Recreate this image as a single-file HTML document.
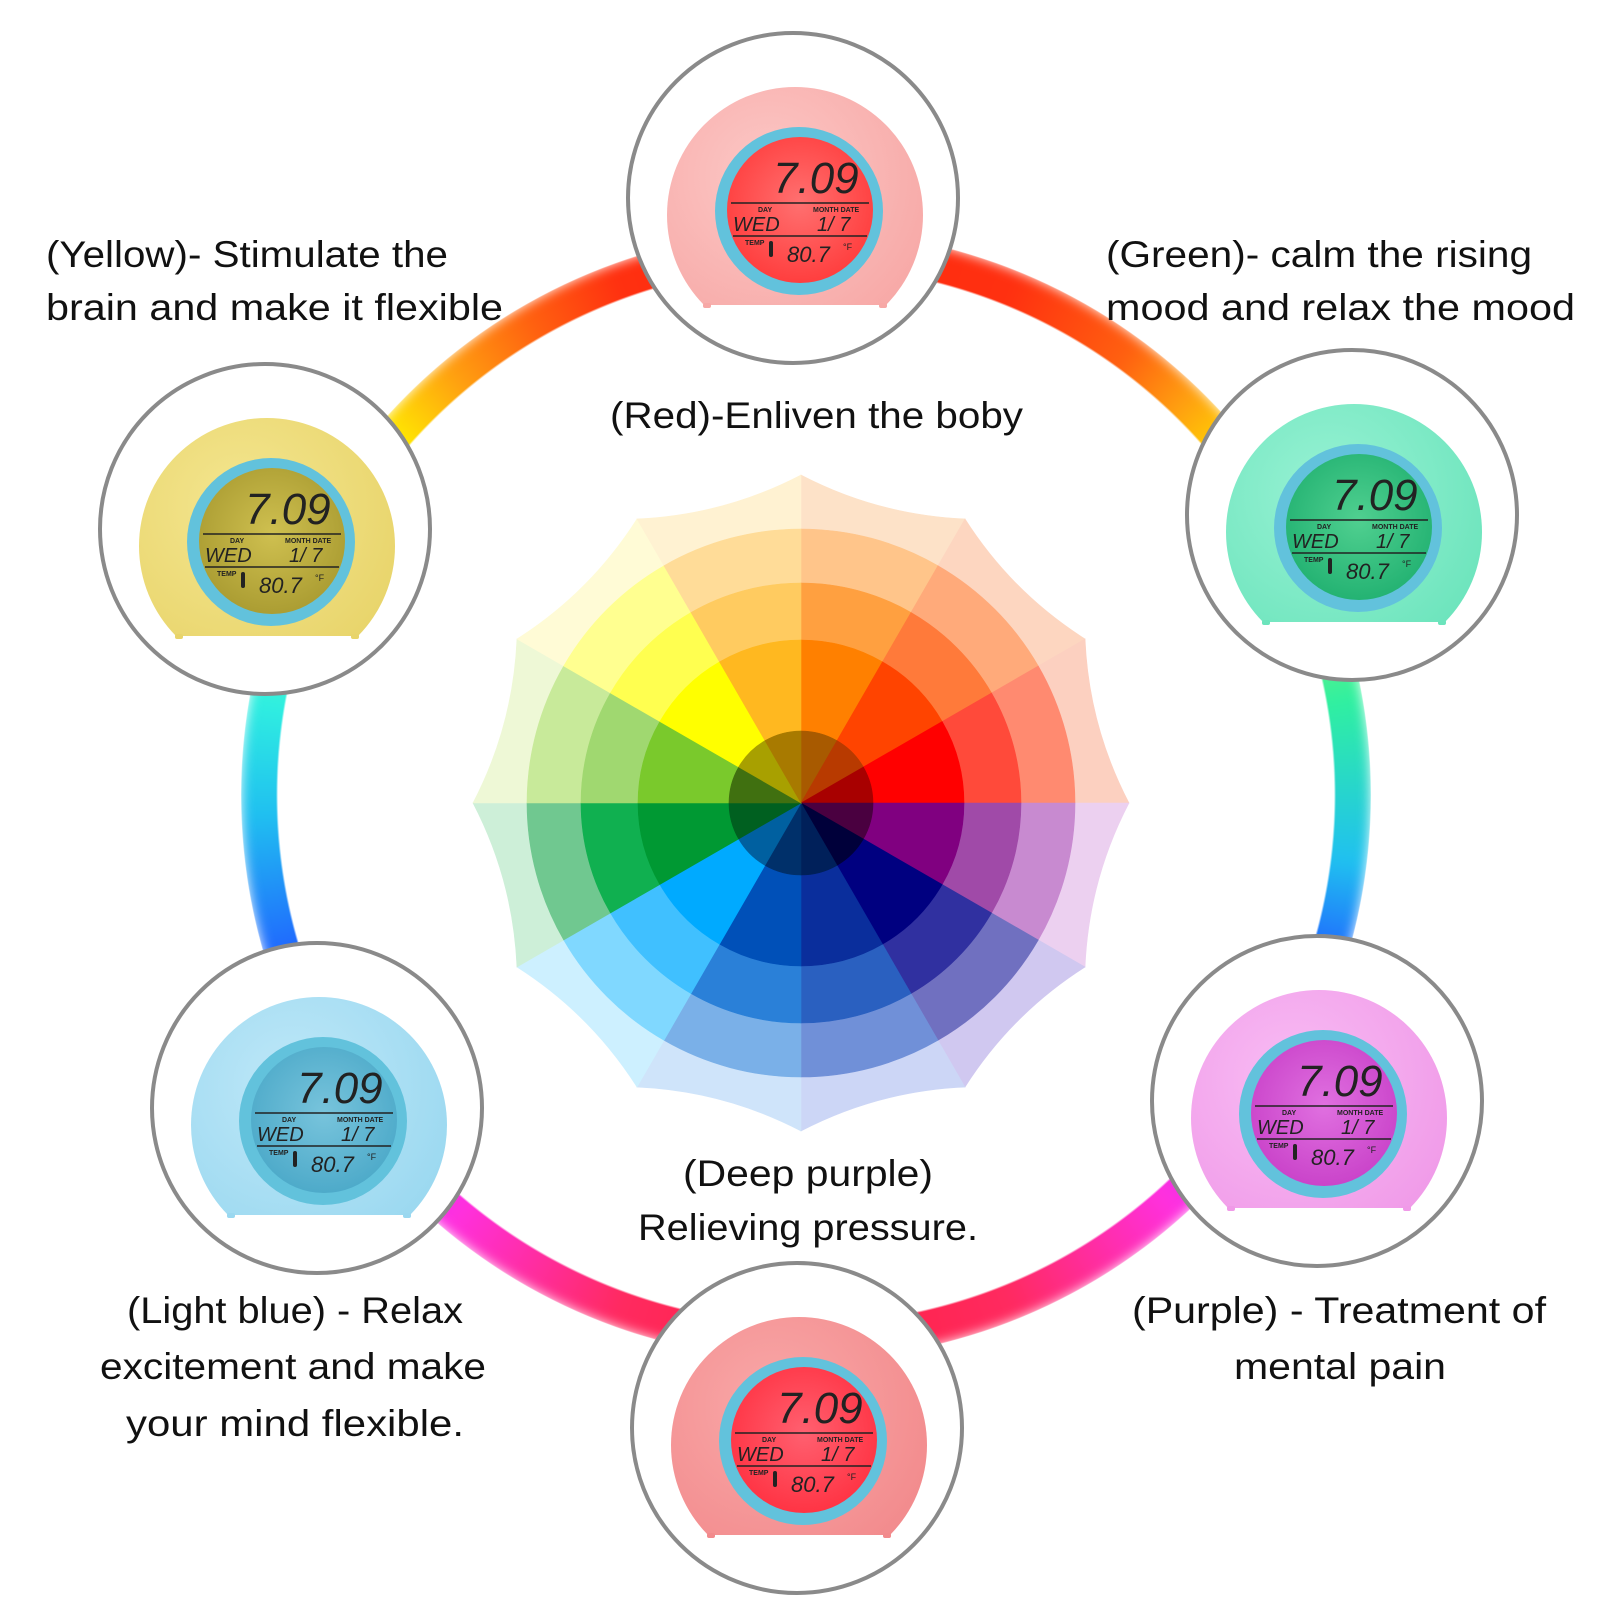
<!DOCTYPE html>
<html><head><meta charset="utf-8">
<style>
html,body{margin:0;padding:0;background:#fff;width:1601px;height:1601px;overflow:hidden;position:relative}
#ring{position:absolute;left:241px;top:230px;width:1130px;height:1130px;border-radius:50%;
background:conic-gradient(from 0deg,#ff2a10 0deg,#ff3010 22deg,#ff6010 36deg,#ffa010 44deg,#ffe000 52deg,#a8f060 66deg,#30f0a0 80deg,#20c0f0 97deg,#2060ff 108deg,#c030f0 128deg,#ff30e0 138deg,#ff2a60 158deg,#ff2040 180deg,#ff2a60 200deg,#ff30e0 220deg,#c030f0 232deg,#2060ff 252deg,#20c0f0 268deg,#30f0e0 280deg,#a8f060 298deg,#fff000 310deg,#ffa010 320deg,#ff6010 330deg,#ff3010 340deg,#ff2a10 360deg);
-webkit-mask:radial-gradient(circle,transparent 0,transparent 528px,#000 530px,#000 564px,transparent 566px);
mask:radial-gradient(circle,transparent 0,transparent 528px,#000 530px,#000 564px,transparent 566px);
filter:blur(6px)}
svg{position:absolute;left:0;top:0}
text{font-family:"Liberation Sans",sans-serif}
</style></head><body>
<div id="ring"></div>
<svg id="s" width="1601" height="1601" viewBox="0 0 1601 1601">
<g id="wheel"></g>
<g id="clocks"></g>
<g fill="#111" font-size="37">
<text x="46" y="267" textLength="402" lengthAdjust="spacingAndGlyphs">(Yellow)- Stimulate the</text>
<text x="46" y="320" textLength="457" lengthAdjust="spacingAndGlyphs">brain and make it flexible</text>
<text x="1106" y="267" textLength="426" lengthAdjust="spacingAndGlyphs">(Green)- calm the rising</text>
<text x="1106" y="320" textLength="469" lengthAdjust="spacingAndGlyphs">mood and relax the mood</text>
<text x="610" y="428" textLength="413" lengthAdjust="spacingAndGlyphs">(Red)-Enliven the boby</text>
<text x="683" y="1186" textLength="250" lengthAdjust="spacingAndGlyphs">(Deep purple)</text>
<text x="638" y="1240" textLength="340" lengthAdjust="spacingAndGlyphs">Relieving pressure.</text>
<text x="127" y="1323" textLength="336" lengthAdjust="spacingAndGlyphs">(Light blue) - Relax</text>
<text x="100" y="1379" textLength="386" lengthAdjust="spacingAndGlyphs">excitement and make</text>
<text x="126" y="1436" textLength="338" lengthAdjust="spacingAndGlyphs">your mind flexible.</text>
<text x="1132" y="1323" textLength="414" lengthAdjust="spacingAndGlyphs">(Purple) - Treatment of</text>
<text x="1234" y="1379" textLength="212" lengthAdjust="spacingAndGlyphs">mental pain</text>
</g>
</svg>
<script>
(function(){
var NS="http://www.w3.org/2000/svg";
function el(t,a,p){var e=document.createElementNS(NS,t);for(var k in a)e.setAttribute(k,a[k]);if(p)p.appendChild(e);return e;}
var W=document.getElementById('wheel');var cx=801,cy=803;
var cols=[
 ["#a85a00","#ff8000","#ffa040","#ffc58a","#fde2c8"],
 ["#b83a00","#ff4400","#ff7a3a","#ffaa7a","#fdd6c0"],
 ["#a80000","#ff0000","#ff4a3a","#ff8a70","#fcd0c0"],
 ["#4a0040","#800080","#a04aa8","#c88ad0","#ecd0f0"],
 ["#00003a","#000080","#3030a0","#7070c0","#d0c8f0"],
 ["#00205a","#0a2e9c","#2a60c0","#7090d8","#ccd6f6"],
 ["#00306a","#0050b8","#2a80d8","#7ab0e8","#cfe4fa"],
 ["#0060a0","#00aaff","#40c0ff","#80d8ff","#cdf0ff"],
 ["#006020","#009933","#10b050","#70c890","#cdefd8"],
 ["#407010","#7ac92c","#a0d870","#c8ea9a","#eef8d6"],
 ["#a8a000","#ffff00","#ffff50","#ffff90","#fffbd6"],
 ["#a87a00","#ffb820","#ffcb60","#ffdc98","#fff2d2"]];
function P(r,a){var t=(a-90)*Math.PI/180;return [cx+r*Math.cos(t),cy+r*Math.sin(t)];}
function sector(r,a0,a1,f){var p0=P(r,a0),p1=P(r,a1);el('path',{d:'M'+cx+','+cy+'L'+p0+'A'+r+','+r+' 0 0 1 '+p1+'Z',fill:f,stroke:f,'stroke-width':0.6},W);}
for(var i=0;i<12;i++){var a0=i*30,a1=a0+30;var p0=P(328,a0),p1=P(328,a1),c=P(298,a0+15);
 el('path',{d:'M'+cx+','+cy+'L'+p0+'Q'+c+' '+p1+'Z',fill:cols[i][4],stroke:cols[i][4],'stroke-width':0.6},W);}
var radii=[274,220,163,72],idx=[3,2,1,0];
for(var k=0;k<4;k++)for(var i=0;i<12;i++)sector(radii[k],i*30,i*30+30,cols[i][idx[k]]);
var C=document.getElementById('clocks');
var cl=[[793,198,"#fcc8c6","#f7a8a6","#ff3a3a","#ff7070"],
[265,529,"#f4e690","#e8d46a","#a89a30","#cfc050"],
[1352,515,"#98f2d4","#6ce4bc","#20b070","#50d090"],
[317,1108,"#bfe8f8","#9ad8f0","#4aa8c8","#78c4dc"],
[1317,1101,"#f8bcf4","#f09ae8","#c840c8","#e070e0"],
[797,1428,"#f9a8a8","#f28a8c","#ff3040","#ff6070"]];
cl.forEach(function(c){
 var g=el('g',{transform:'translate('+c[0]+','+c[1]+')'},C);
 var id='cp'+Math.round(c[0]);
 var d=el('defs',{},g);var cp=el('clipPath',{id:id},d);el('rect',{x:-140,y:-130,width:280,height:237},cp);
 var gr=el('radialGradient',{id:id+'g',cx:'40%',cy:'35%',r:'70%'},d);
 el('stop',{offset:'0','stop-color':c[2]},gr);el('stop',{offset:'1','stop-color':c[3]},gr);
 var lg=el('radialGradient',{id:id+'l',cx:'50%',cy:'45%',r:'60%'},d);
 el('stop',{offset:'0','stop-color':c[5]},lg);el('stop',{offset:'1','stop-color':c[4]},lg);
 el('circle',{cx:0,cy:0,r:165,fill:'#fff',stroke:'#8a8a8a','stroke-width':4},g);
 el('circle',{cx:2,cy:17,r:128,fill:'url(#'+id+'g)','clip-path':'url(#'+id+')'},g);
 el('rect',{x:-90,y:105,width:8,height:5,rx:2,fill:c[3]},g);el('rect',{x:86,y:105,width:8,height:5,rx:2,fill:c[3]},g);
 el('circle',{cx:6,cy:13,r:84,fill:'#62c2dc'},g);
 el('circle',{cx:7,cy:12,r:73,fill:'url(#'+id+'l)'},g);
 el('line',{x1:-62,y1:5,x2:76,y2:5,stroke:'#222','stroke-width':1.5},g);
 el('line',{x1:-60,y1:38,x2:74,y2:38,stroke:'#222','stroke-width':1.5},g);
 var t=el('text',{x:-20,y:-5,'font-size':44,fill:'#222','font-family':'Liberation Mono,monospace','font-style':'italic'},g);t.textContent='7.09';
 t=el('text',{x:-35,y:14,'font-size':7,fill:'#222','font-weight':'bold'},g);t.textContent='DAY';
 t=el('text',{x:20,y:14,'font-size':7,fill:'#222','font-weight':'bold'},g);t.textContent='MONTH  DATE';
 t=el('text',{x:-60,y:33,'font-size':20,fill:'#222','font-family':'Liberation Mono,monospace','font-style':'italic'},g);t.textContent='WED';
 t=el('text',{x:24,y:33,'font-size':20,fill:'#222','font-family':'Liberation Mono,monospace','font-style':'italic'},g);t.textContent='1/ 7';
 t=el('text',{x:-48,y:47,'font-size':7,fill:'#222','font-weight':'bold'},g);t.textContent='TEMP';
 el('rect',{x:-24,y:43,width:4,height:16,rx:2,fill:'#222'},g);
 t=el('text',{x:-6,y:64,'font-size':22,fill:'#222','font-family':'Liberation Mono,monospace','font-style':'italic'},g);t.textContent='80.7';
 t=el('text',{x:50,y:52,'font-size':9,fill:'#222'},g);t.textContent='°F';
});
})();
</script>
</body></html>
